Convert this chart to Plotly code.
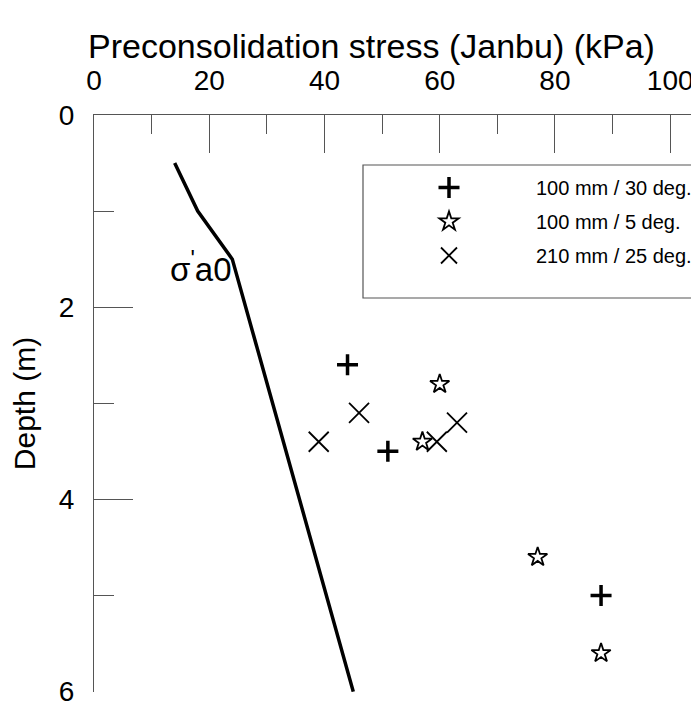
import plotly.graph_objects as go

# Janbu reference line (sigma'_a0)
line_stress = [14, 18, 24, 45]
line_depth = [0.5, 1.0, 1.5, 6.0]

# 100 mm / 30 deg.
s30_stress = [44, 51, 88]
s30_depth = [2.6, 3.5, 5.0]

# 100 mm / 5 deg.
s5_stress = [60, 57, 77, 88]
s5_depth = [2.8, 3.4, 4.6, 5.6]

# 210 mm / 25 deg.
s25_stress = [39, 46, 59.5, 63]
s25_depth = [3.4, 3.1, 3.4, 3.2]

names = ["100 mm / 30 deg.", "100 mm / 5 deg.", "210 mm / 25 deg."]

FONT = "Liberation Sans, Arial, sans-serif"
AX = "#555555"

W, H = 691, 698
OFF = 8  # page body margin
# plot area in screen pixels: x 94..699, y 115..692
PL, PR, PT, PB = 94, 699, 115, 692


def px(xs):
    return (xs - PL) / (PR - PL)


def py(ys):
    return (PB - ys) / (PB - PT)


fig = go.Figure()
fig.add_trace(go.Scatter(x=line_stress, y=line_depth, mode="lines",
                         line=dict(color="black", width=3.5), showlegend=False))
fig.add_trace(go.Scatter(x=s30_stress, y=s30_depth, mode="markers", name=names[0],
                         legendgroup="a",
                         marker=dict(symbol="cross-thin", size=15, color="black",
                                     line=dict(color="black", width=3.5))))
fig.add_trace(go.Scatter(x=s5_stress, y=s5_depth, mode="markers", name=names[1],
                         legendgroup="b",
                         marker=dict(symbol="star-open", size=14.5, color="black",
                                     line=dict(color="black", width=1.8))))
fig.add_trace(go.Scatter(x=s25_stress, y=s25_depth, mode="markers", name=names[2],
                         legendgroup="c",
                         marker=dict(symbol="x-thin", size=20, color="black",
                                     line=dict(color="black", width=1.8))))

fig.update_layout(
    width=W, height=H,
    margin=dict(l=PL - OFF, r=0, t=PT - OFF, b=H + OFF - PB, autoexpand=False),
    plot_bgcolor="white", paper_bgcolor="white",
    font=dict(family=FONT, color="black"),
    xaxis=dict(side="top", range=[0, 105], dtick=20, tick0=0,
               ticks="inside", ticklen=38, tickwidth=1, tickcolor=AX,
               minor=dict(dtick=10, ticks="inside", ticklen=19, tickcolor=AX, tickwidth=1),
               showline=True, linecolor=AX, linewidth=1, showgrid=False, zeroline=False,
               tickfont=dict(size=28, family=FONT), ticklabelstandoff=13,
               ticklabeloverflow="allow", automargin=False),
    yaxis=dict(range=[6.004, 0], dtick=2, tick0=0,
               ticks="inside", ticklen=39, tickwidth=1, tickcolor=AX,
               minor=dict(dtick=1, ticks="inside", ticklen=20, tickcolor=AX, tickwidth=1),
               showline=True, linecolor=AX, linewidth=1, showgrid=False, zeroline=False,
               tickfont=dict(size=28, family=FONT), ticklabelstandoff=13,
               ticklabeloverflow="allow",
               title=dict(text="Depth (m)", font=dict(size=30, family=FONT), standoff=14),
               automargin=False),
    legend=dict(xref="container", yref="container",
                x=(362 - OFF) / W, y=1 - (168 - OFF) / H, xanchor="left", yanchor="top",
                bgcolor="rgba(0,0,0,0)", borderwidth=0, itemwidth=164,
                tracegroupgap=5, font=dict(size=20, family=FONT)),
    shapes=[dict(type="rect", xref="paper", yref="paper",
                 x0=px(363), x1=1.2, y0=py(298), y1=py(165),
                 line=dict(color=AX, width=1.2), fillcolor="white", layer="below")],
    annotations=[
        dict(text="Preconsolidation stress (Janbu) (kPa)", xref="paper", yref="paper",
             x=px(371), y=py(46), xanchor="center", yanchor="middle",
             showarrow=False, font=dict(size=34, family=FONT)),
        dict(text="σ<sup>'</sup>a0", x=18.6, y=1.58, xref="x", yref="y",
             showarrow=False, font=dict(size=33, family=FONT)),
    ],
)

fig.write_html("out.html")
